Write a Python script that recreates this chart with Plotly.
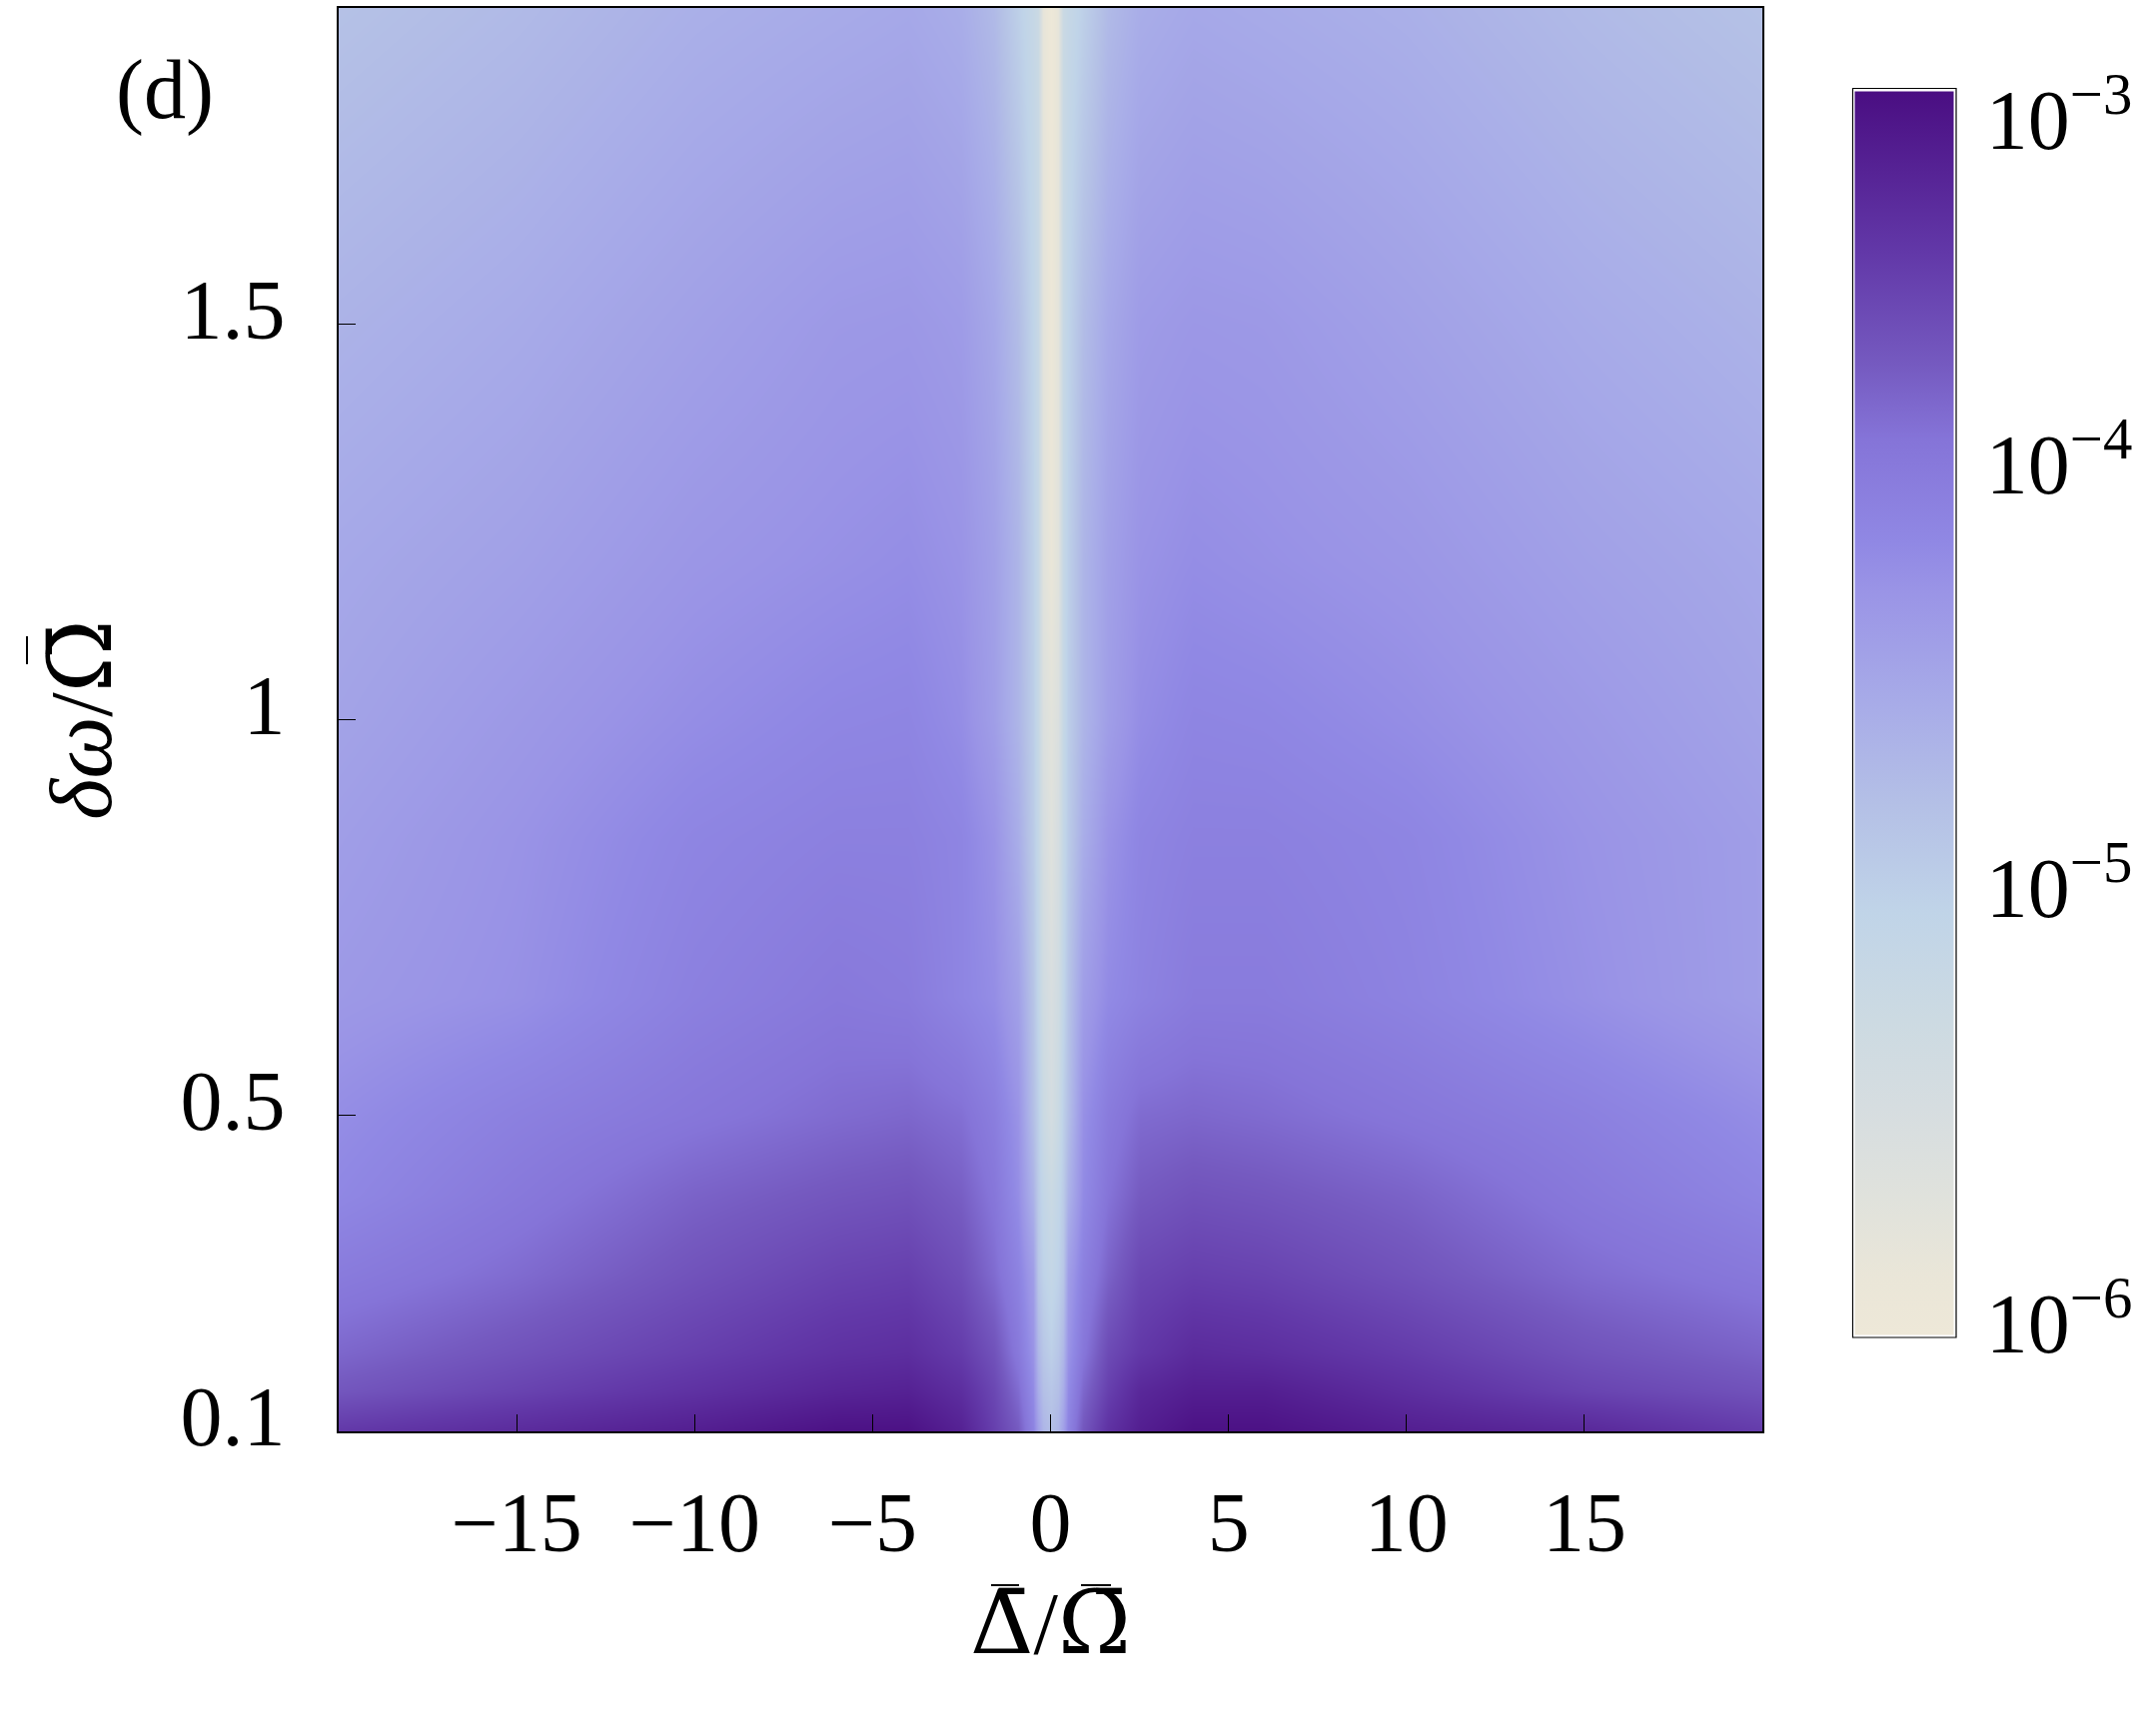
import plotly.graph_objects as go

# Axis grid of the map
detuning = [-20, -15, -10, -6, -4, -2.5, -1.6, -0.9, -0.5, -0.35, -0.2, 0,
            0.2, 0.35, 0.5, 0.9, 1.6, 2.5, 4, 6, 10, 15, 20]
delta_omega = [0.1, 0.15, 0.2, 0.3, 0.4, 0.5, 0.65, 0.85, 1.0, 1.2, 1.5, 1.9]

# Each row: estimated position on the colour bar (0 = 1e-6, 1 = 1e-3)
row_010 = [.87,.91,.95,.99,.99,.94,.85,.78,.66,.55,.47,.43,.47,.55,.66,.79,.89,.95,.99,.99,.95,.92,.86]
row_015 = [.79,.84,.89,.93,.94,.90,.83,.74,.63,.50,.43,.40,.43,.50,.63,.75,.85,.92,.95,.95,.90,.84,.80]
row_020 = [.75,.80,.85,.89,.90,.86,.80,.70,.60,.46,.40,.36,.40,.46,.60,.71,.82,.87,.91,.90,.86,.80,.76]
row_030 = [.69,.74,.80,.84,.85,.81,.74,.66,.56,.40,.35,.31,.35,.40,.56,.67,.76,.83,.85,.84,.80,.74,.70]
row_040 = [.64,.70,.76,.79,.80,.77,.71,.62,.48,.38,.32,.27,.32,.38,.48,.63,.72,.78,.80,.79,.76,.70,.65]
row_050 = [.62,.67,.71,.74,.75,.73,.68,.60,.43,.36,.27,.20,.27,.36,.43,.61,.69,.74,.75,.74,.71,.67,.62]
row_065 = [.58,.61,.67,.70,.69,.65,.62,.55,.41,.33,.23,.17,.23,.33,.41,.56,.63,.66,.69,.69,.66,.61,.56]
row_085 = [.56,.60,.65,.67,.67,.65,.60,.50,.38,.31,.19,.12,.19,.31,.38,.50,.60,.65,.67,.67,.65,.60,.56]
row_100 = [.54,.58,.62,.645,.65,.62,.56,.47,.37,.30,.15,.10,.15,.30,.37,.47,.56,.62,.65,.645,.62,.58,.54]
row_120 = [.52,.55,.59,.61,.62,.60,.55,.47,.36,.30,.11,.05,.11,.30,.36,.47,.55,.60,.62,.61,.59,.55,.52]
row_150 = [.48,.51,.55,.58,.585,.57,.52,.44,.34,.29,.09,.03,.09,.29,.34,.44,.52,.57,.585,.58,.55,.51,.48]
row_190 = [.42,.45,.49,.51,.52,.50,.45,.36,.30,.27,.07,.01,.07,.27,.30,.36,.45,.50,.52,.51,.49,.45,.42]
rows = [row_010, row_015, row_020, row_030, row_040, row_050,
        row_065, row_085, row_100, row_120, row_150, row_190]

log10_value = [[-6 + 3 * v for v in r] for r in rows]

# Palette
palette_pos = [0, .046, .11, .182, .254, .34, .426, .505, .598, .637, .72, .78, .87, 1]
palette_col = ["#eee8d8", "#eae6d8", "#e0e2dc", "#d6dde0", "#ccdae2", "#c0d4e8", "#b4c0e6",
               "#a8ace8", "#9a94e6", "#9088e4", "#8574d8", "#755ac0", "#6238a8", "#4a0e82"]

x_ticks = [-15, -10, -5, 0, 5, 10, 15]
x_tick_text = ["\u221215", "\u221210", "\u22125", "0", "5", "10", "15"]
y_ticks = [0.1, 0.5, 1, 1.5]
y_tick_text = ["0.1", "0.5", "1", "1.5"]
cbar_tick_pos = [-5.97, -4.92, -3.90, -3.07]
cbar_tick_text = ["10<sup>\u22126</sup>", "10<sup>\u22125</sup>", "10<sup>\u22124</sup>", "10<sup>\u22123</sup>"]

W, H = 2142, 1738
L, R, T, B = 339, 1764, 8, 1433
PW, PH = R - L, B - T
FONT = "Liberation Serif"
FS = 84
BAR = '<span style="font-family:DejaVu Serif">%s\u0304</span>'


def px(x0, y0, x1, y1):
    """A small overbar, placed in page pixels."""
    return dict(type="line", xref="paper", yref="paper",
                x0=(x0 - L) / PW, x1=(x1 - L) / PW,
                y0=(B - y0) / PH, y1=(B - y1) / PH,
                line=dict(color="black", width=2))


fig = go.Figure(go.Heatmap(
    x=detuning, y=delta_omega, z=log10_value,
    zmin=-6, zmax=-3, zsmooth="best",
    colorscale=[[p, c] for p, c in zip(palette_pos, palette_col)],
    hoverinfo="skip",
    colorbar=dict(
        thickness=100, thicknessmode="pixels",
        len=1246, lenmode="pixels",
        x=(1856 - L) / PW, xanchor="left", xref="paper", xpad=0,
        y=(B - 1337) / PH, yanchor="bottom", yref="paper", ypad=0,
        outlinecolor="white", outlinewidth=1,
        tickmode="array", tickvals=cbar_tick_pos, ticktext=cbar_tick_text,
        ticks="outside", ticklen=15, tickwidth=0, tickcolor="rgba(0,0,0,0)",
        tickfont=dict(family=FONT, size=84, color="black"),
    ),
))

fig.update_layout(
    width=W, height=H, autosize=False,
    margin=dict(l=L, r=W - R, t=T, b=H - B, pad=0, autoexpand=False),
    paper_bgcolor="white", plot_bgcolor="white",
    font=dict(family=FONT, size=FS, color="black"),
    xaxis=dict(
        range=[-20, 20], showgrid=False, zeroline=False,
        showline=True, linecolor="black", linewidth=1.5, mirror=True,
        ticks="inside", ticklen=17, tickwidth=1, tickcolor="black",
        tickmode="array", tickvals=x_ticks, ticktext=x_tick_text,
        tickfont=dict(family=FONT, size=FS), ticklabelstandoff=17,
        title=dict(text=BAR % "\u0394" + "/" + BAR % "\u03a9",
                   font=dict(family=FONT, size=88), standoff=24),
    ),
    yaxis=dict(
        range=[0.1, 1.9], showgrid=False, zeroline=False,
        showline=True, linecolor="black", linewidth=1.5, mirror=True,
        ticks="inside", ticklen=17, tickwidth=1, tickcolor="black",
        tickmode="array", tickvals=y_ticks, ticktext=y_tick_text,
        tickfont=dict(family=FONT, size=FS), ticklabelstandoff=35, ticklabelshift=-15,
        title=dict(text="<i>\u03b4\u03c9</i>/" + BAR % "\u03a9",
                   font=dict(family=FONT, size=88), standoff=40),
    ),
    annotations=[dict(
        text="(d)", xref="paper", yref="paper",
        x=(165 - L) / PW, y=(B - 90) / PH, xanchor="center", yanchor="middle",
        showarrow=False, font=dict(family=FONT, size=84, color="black"),
    )],
    shapes=[
        dict(type="rect", xref="paper", yref="paper", layer="above",
             x0=(1854.5 - L) / PW, x1=(1958 - L) / PW,
             y0=(B - 1339) / PH, y1=(B - 88.5) / PH,
             line=dict(color="black", width=1.2)),
        px(992, 1587, 1020, 1587),
        px(1082, 1587, 1112, 1587),
        px(27, 637, 27, 665),
    ],
)

fig.write_html("out.html", config={"displayModeBar": False},
               post_script="document.body.style.margin='0';")
